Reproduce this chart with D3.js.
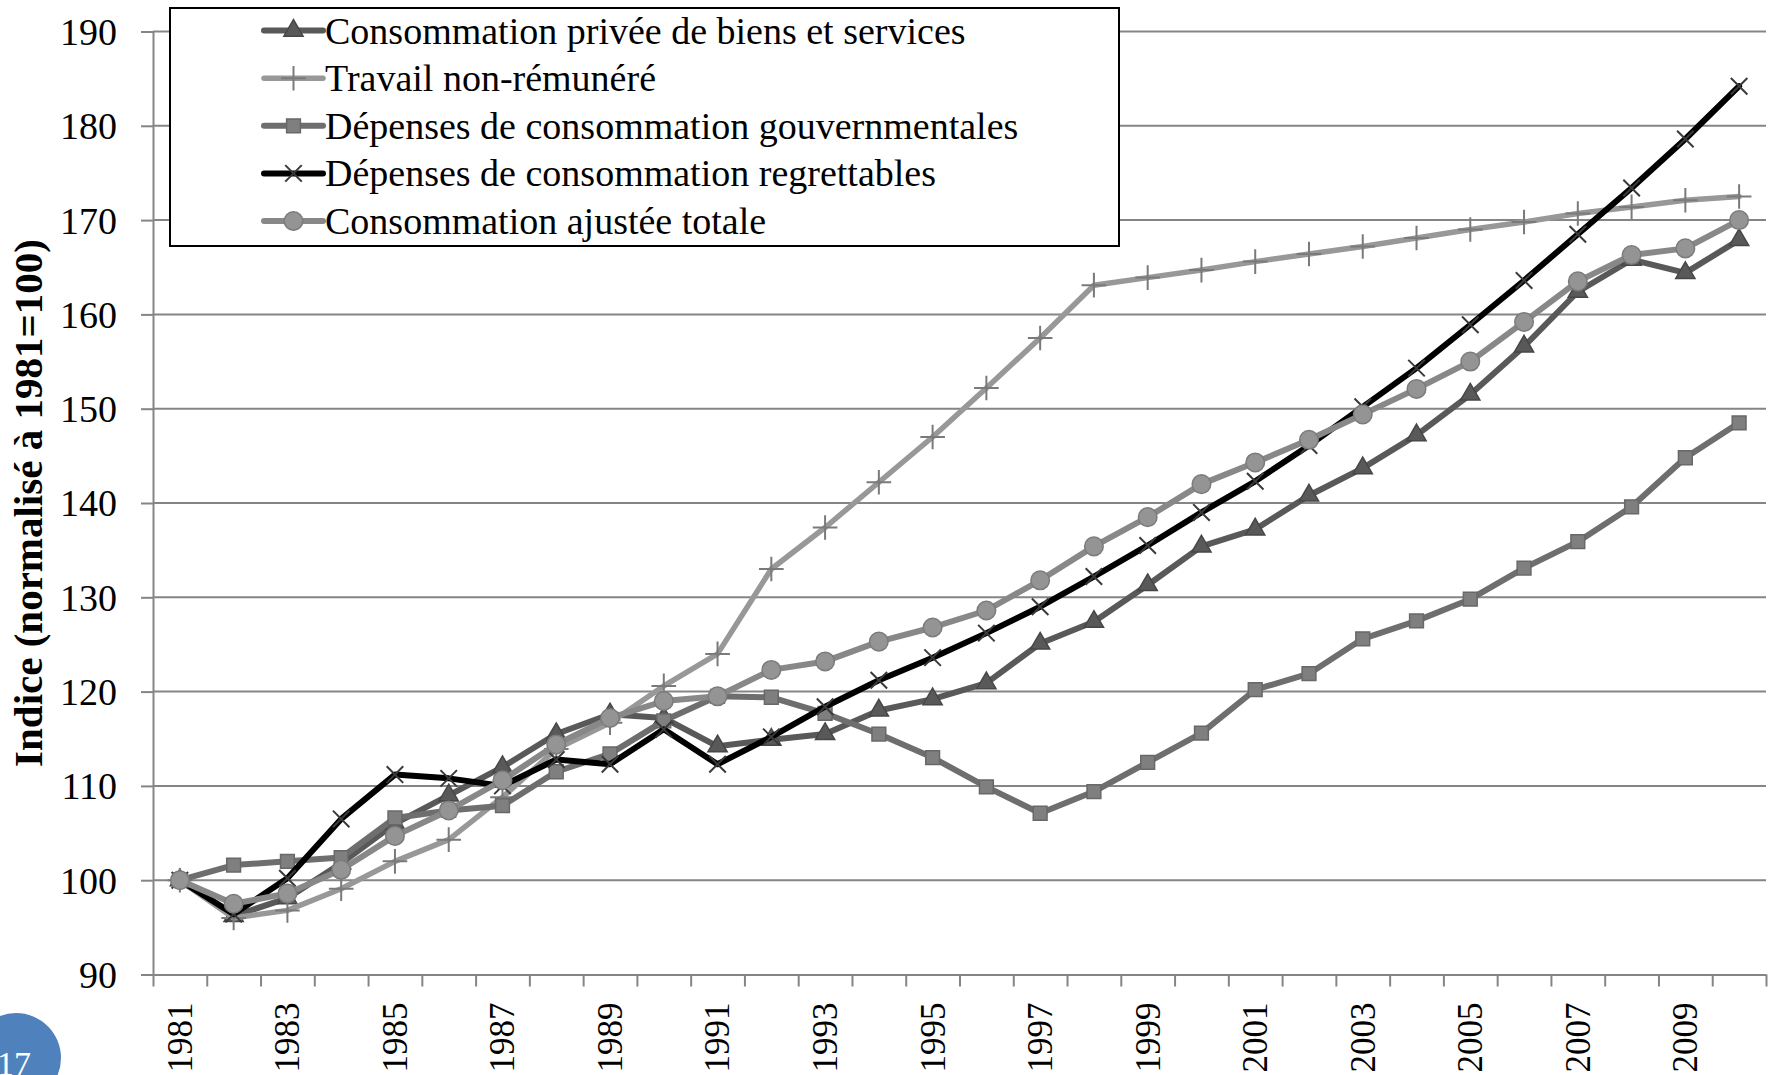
<!DOCTYPE html>
<html>
<head>
<meta charset="utf-8">
<script src="https://cdn.jsdelivr.net/npm/d3@7"></script>
<style>
  body { margin: 0; background: #fff; }
  svg { display: block; }
  text { font-family: "Liberation Serif", "Times New Roman", serif; fill: #000; }
</style>
</head>
<body>
<div id="vis"></div>
<script>
// categories
const years = [1981, 1982, 1983, 1984, 1985, 1986, 1987, 1988, 1989, 1990,
  1991, 1992, 1993, 1994, 1995, 1996, 1997, 1998, 1999, 2000,
  2001, 2002, 2003, 2004, 2005, 2006, 2007, 2008, 2009, 2010];

// series (index, 1981 = 100)
const privee = [100, 96.2, 98.1, 101.8, 106.0, 109.0, 112.0, 115.5, 117.6, 117.2,
  114.2, 114.9, 115.5, 118.0, 119.2, 120.9, 125.1, 127.4, 131.3, 135.4,
  137.2, 140.8, 143.7, 147.2, 151.5, 156.6, 162.4, 165.8, 164.4, 167.9];
const travail = [100, 96.0, 96.8, 99.1, 102.0, 104.3, 108.8, 113.9, 116.7, 120.6,
  124.0, 133.0, 137.4, 142.2, 147.0, 152.2, 157.5, 163.1, 163.9, 164.7,
  165.6, 166.4, 167.2, 168.1, 169.0, 169.8, 170.7, 171.4, 172.1, 172.5];
const gouv = [100, 101.6, 102.0, 102.4, 106.6, 107.4, 107.9, 111.5, 113.4, 116.9,
  119.5, 119.4, 117.7, 115.5, 113.0, 109.9, 107.1, 109.4, 112.5, 115.6,
  120.2, 121.9, 125.6, 127.5, 129.8, 133.1, 135.9, 139.6, 144.8, 148.5];
const regret = [100, 96.4, 100.2, 106.5, 111.2, 110.8, 110.0, 112.8, 112.3, 116.0,
  112.3, 115.2, 118.4, 121.2, 123.6, 126.2, 129.0, 132.2, 135.5, 139.0,
  142.3, 146.1, 150.2, 154.3, 158.9, 163.6, 168.5, 173.4, 178.6, 184.2];
const ajustee = [100, 97.5, 98.6, 101.1, 104.7, 107.4, 110.6, 114.4, 117.2, 119.0,
  119.5, 122.3, 123.2, 125.3, 126.8, 128.6, 131.8, 135.4, 138.5, 142.0,
  144.3, 146.7, 149.4, 152.1, 155.0, 159.2, 163.5, 166.3, 167.0, 170.0];

const seriesNames = [
  'Consommation privée de biens et services',
  'Travail non-rémunéré',
  'Dépenses de consommation gouvernmentales',
  'Dépenses de consommation regrettables',
  'Consommation ajustée totale'
];
const yTicks = [90, 100, 110, 120, 130, 140, 150, 160, 170, 180, 190];
const yTitle = 'Indice (normalisé à 1981=100)';
const slideNumber = '17';

// look of each series (same order as seriesNames)
const styles = [
  { line: '#595959', width: 6, sym: d3.symbolTriangle, size: 160, fill: '#595959', stroke: '#474747', sw: 1.5 },
  { line: '#989898', width: 5.5, sym: d3.symbolPlus || d3.symbolCross, size: 200, fill: 'none', stroke: '#7a7a7a', sw: 2 },
  { line: '#6e6e6e', width: 6, sym: d3.symbolSquare, size: 190, fill: '#7f7f7f', stroke: '#686868', sw: 1.5 },
  { line: '#000000', width: 6, sym: d3.symbolX || d3.symbolCross, size: 180, fill: 'none', stroke: '#3a3a3a', sw: 2 },
  { line: '#888888', width: 6, sym: d3.symbolCircle, size: 270, fill: '#949494', stroke: '#7b7b7b', sw: 1.5 }
];

const allValues = [privee, travail, gouv, regret, ajustee];
const series = seriesNames.map((name, i) => ({
  name: name,
  style: styles[i],
  points: years.map((yr, j) => ({ year: yr, value: allValues[i][j] }))
}));

const width = 1777;
const height = 1075;
const plot = { left: 153, right: 1766, top: 31.5, bottom: 974.5 };

const svg = d3.select('#vis').append('svg')
  .attr('width', width)
  .attr('height', height);

const x = d3.scaleBand()
  .domain(years)
  .range([plot.left, plot.right])
  .padding(0);
const xc = d => x(d) + x.bandwidth() / 2;

const y = d3.scaleLinear()
  .domain([90, 190])
  .range([plot.bottom, plot.top]);

// category boundaries for the tick marks
const xEdge = d3.scaleLinear()
  .domain([0, years.length])
  .range([plot.left, plot.right]);

const grey = '#858585';

// gridlines
svg.append('g')
  .selectAll('line')
  .data(yTicks.slice(1))
  .join('line')
  .attr('x1', plot.left)
  .attr('x2', plot.right)
  .attr('y1', d => y(d))
  .attr('y2', d => y(d))
  .attr('stroke', grey)
  .attr('stroke-width', 2);

// y axis
const yAxis = svg.append('g')
  .attr('transform', `translate(${plot.left},0)`)
  .call(d3.axisLeft(y).tickValues(yTicks).tickSize(12).tickPadding(24).tickSizeOuter(0));
yAxis.select('.domain').attr('stroke', grey).attr('stroke-width', 2);
yAxis.selectAll('.tick line').attr('stroke', grey).attr('stroke-width', 2);
yAxis.selectAll('.tick text')
  .attr('font-size', 38)
  .attr('font-family', '"Liberation Serif", serif')
  .attr('dy', '0.34em');

// x axis: tick marks on category boundaries
const xTickAxis = svg.append('g')
  .attr('transform', `translate(0,${plot.bottom})`)
  .call(d3.axisBottom(xEdge).tickValues(d3.range(years.length + 1)).tickSize(12).tickFormat('').tickSizeOuter(0));
xTickAxis.select('.domain').attr('stroke', grey).attr('stroke-width', 2);
xTickAxis.selectAll('.tick line').attr('stroke', grey).attr('stroke-width', 2);

// x axis labels, every other year, rotated
const xLabelAxis = svg.append('g')
  .attr('transform', `translate(0,${plot.bottom})`)
  .call(d3.axisBottom(x).tickValues(years.filter((d, i) => i % 2 === 0)).tickSize(0).tickSizeOuter(0));
xLabelAxis.select('.domain').remove();
xLabelAxis.selectAll('.tick text')
  .attr('font-size', 35)
  .attr('font-family', '"Liberation Serif", serif')
  .attr('transform', 'rotate(-90)')
  .attr('x', -28)
  .attr('y', 0)
  .attr('dy', '0.34em')
  .style('text-anchor', 'end');

// y title
svg.append('text')
  .attr('transform', `translate(42,${(236 + 770) / 2}) rotate(-90)`)
  .attr('text-anchor', 'middle')
  .attr('font-size', 41)
  .attr('font-weight', 'bold')
  .text(yTitle);

// lines and markers
const line = d3.line()
  .x(d => xc(d.year))
  .y(d => y(d.value));

const sGroups = svg.append('g')
  .selectAll('g')
  .data(series)
  .join('g');

sGroups.append('path')
  .attr('d', d => line(d.points))
  .attr('fill', 'none')
  .attr('stroke', d => d.style.line)
  .attr('stroke-width', d => d.style.width)
  .attr('stroke-linejoin', 'round')
  .attr('stroke-linecap', 'round');

sGroups.each(function (s) {
  d3.select(this).selectAll('path.marker')
    .data(s.points)
    .join('path')
    .attr('class', 'marker')
    .attr('transform', d => `translate(${xc(d.year)},${y(d.value)})`)
    .attr('d', d3.symbol().type(s.style.sym).size(s.style.size))
    .attr('fill', s.style.fill)
    .attr('stroke', s.style.stroke)
    .attr('stroke-width', s.style.sw);
});

// legend
const legend = svg.append('g');
legend.append('rect')
  .attr('x', 170)
  .attr('y', 8)
  .attr('width', 949)
  .attr('height', 238)
  .attr('fill', '#fff')
  .attr('stroke', '#000')
  .attr('stroke-width', 2);

const rowY = i => 30.6 + i * 47.6;
const items = legend.selectAll('g.item')
  .data(series)
  .join('g')
  .attr('class', 'item')
  .attr('transform', (d, i) => `translate(0,${rowY(i)})`);

items.append('line')
  .attr('x1', 264)
  .attr('x2', 323)
  .attr('stroke', d => d.style.line)
  .attr('stroke-width', d => d.style.width)
  .attr('stroke-linecap', 'round');

items.append('path')
  .attr('transform', 'translate(293.5,0)')
  .attr('d', d => d3.symbol().type(d.style.sym).size(d.style.size)())
  .attr('fill', d => d.style.fill)
  .attr('stroke', d => d.style.stroke)
  .attr('stroke-width', d => d.style.sw);

items.append('text')
  .attr('x', 325)
  .attr('dy', '0.34em')
  .attr('font-size', 38)
  .text(d => d.name);

// slide number badge
svg.append('circle')
  .attr('cx', 16)
  .attr('cy', 1058)
  .attr('r', 45)
  .attr('fill', '#4f81bd');
svg.append('text')
  .attr('x', 14)
  .attr('y', 1075)
  .attr('text-anchor', 'middle')
  .attr('font-size', 34)
  .attr('font-family', '"Open Sans", sans-serif')
  .attr('font-weight', 300)
  .style('fill', '#fff')
  .text(slideNumber);
</script>
</body>
</html>
